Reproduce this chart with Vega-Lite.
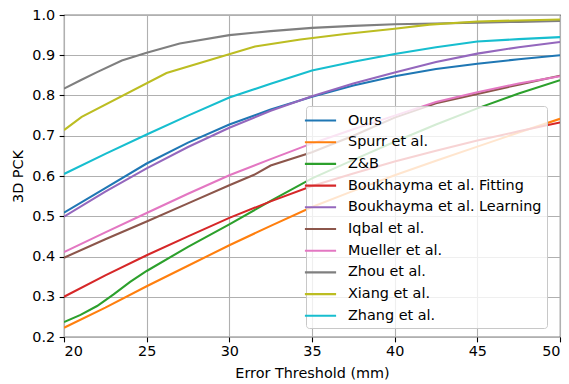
{
  "$schema": "https://vega.github.io/schema/vega-lite/v6.json",
  "width": 496,
  "height": 322,
  "autosize": "none",
  "padding": {"left": 64, "top": 15, "right": 9, "bottom": 47},
  "background": "white",
  "datasets": {
    "curves": [
      {"method": "Ours", "x": 20, "y": 0.509}, {"method": "Ours", "x": 22.5, "y": 0.570}, {"method": "Ours", "x": 25, "y": 0.631}, {"method": "Ours", "x": 27.5, "y": 0.683}, {"method": "Ours", "x": 30, "y": 0.728}, {"method": "Ours", "x": 32.5, "y": 0.765}, {"method": "Ours", "x": 35, "y": 0.797}, {"method": "Ours", "x": 37.5, "y": 0.825}, {"method": "Ours", "x": 40, "y": 0.848}, {"method": "Ours", "x": 42.5, "y": 0.866}, {"method": "Ours", "x": 45, "y": 0.879}, {"method": "Ours", "x": 47.5, "y": 0.89}, {"method": "Ours", "x": 50, "y": 0.9},

      {"method": "Spurr et al.", "x": 20, "y": 0.223}, {"method": "Spurr et al.", "x": 22.5, "y": 0.273}, {"method": "Spurr et al.", "x": 25, "y": 0.326}, {"method": "Spurr et al.", "x": 27.5, "y": 0.377}, {"method": "Spurr et al.", "x": 30, "y": 0.428}, {"method": "Spurr et al.", "x": 32.5, "y": 0.476}, {"method": "Spurr et al.", "x": 35, "y": 0.523}, {"method": "Spurr et al.", "x": 37.5, "y": 0.563}, {"method": "Spurr et al.", "x": 40, "y": 0.602}, {"method": "Spurr et al.", "x": 42.5, "y": 0.638}, {"method": "Spurr et al.", "x": 45, "y": 0.673}, {"method": "Spurr et al.", "x": 47.5, "y": 0.708}, {"method": "Spurr et al.", "x": 50, "y": 0.742},

      {"method": "Z&B", "x": 20, "y": 0.237}, {"method": "Z&B", "x": 21, "y": 0.255}, {"method": "Z&B", "x": 22, "y": 0.277}, {"method": "Z&B", "x": 23, "y": 0.306}, {"method": "Z&B", "x": 24, "y": 0.337}, {"method": "Z&B", "x": 25, "y": 0.364}, {"method": "Z&B", "x": 27.5, "y": 0.424}, {"method": "Z&B", "x": 30, "y": 0.48}, {"method": "Z&B", "x": 32.5, "y": 0.538}, {"method": "Z&B", "x": 35, "y": 0.594}, {"method": "Z&B", "x": 37.5, "y": 0.64}, {"method": "Z&B", "x": 40, "y": 0.685}, {"method": "Z&B", "x": 42.5, "y": 0.728}, {"method": "Z&B", "x": 45, "y": 0.768}, {"method": "Z&B", "x": 47.5, "y": 0.805}, {"method": "Z&B", "x": 50, "y": 0.838},

      {"method": "Boukhayma et al. Fitting", "x": 20, "y": 0.30}, {"method": "Boukhayma et al. Fitting", "x": 22.5, "y": 0.353}, {"method": "Boukhayma et al. Fitting", "x": 25, "y": 0.403}, {"method": "Boukhayma et al. Fitting", "x": 27.5, "y": 0.45}, {"method": "Boukhayma et al. Fitting", "x": 30, "y": 0.496}, {"method": "Boukhayma et al. Fitting", "x": 32.5, "y": 0.537}, {"method": "Boukhayma et al. Fitting", "x": 35, "y": 0.575}, {"method": "Boukhayma et al. Fitting", "x": 37.5, "y": 0.606}, {"method": "Boukhayma et al. Fitting", "x": 40, "y": 0.636}, {"method": "Boukhayma et al. Fitting", "x": 42.5, "y": 0.663}, {"method": "Boukhayma et al. Fitting", "x": 45, "y": 0.688}, {"method": "Boukhayma et al. Fitting", "x": 47.5, "y": 0.711}, {"method": "Boukhayma et al. Fitting", "x": 50, "y": 0.733},

      {"method": "Boukhayma et al. Learning", "x": 20, "y": 0.499}, {"method": "Boukhayma et al. Learning", "x": 22.5, "y": 0.561}, {"method": "Boukhayma et al. Learning", "x": 25, "y": 0.619}, {"method": "Boukhayma et al. Learning", "x": 27.5, "y": 0.672}, {"method": "Boukhayma et al. Learning", "x": 30, "y": 0.72}, {"method": "Boukhayma et al. Learning", "x": 32.5, "y": 0.762}, {"method": "Boukhayma et al. Learning", "x": 35, "y": 0.798}, {"method": "Boukhayma et al. Learning", "x": 37.5, "y": 0.83}, {"method": "Boukhayma et al. Learning", "x": 40, "y": 0.857}, {"method": "Boukhayma et al. Learning", "x": 42.5, "y": 0.883}, {"method": "Boukhayma et al. Learning", "x": 45, "y": 0.904}, {"method": "Boukhayma et al. Learning", "x": 47.5, "y": 0.92}, {"method": "Boukhayma et al. Learning", "x": 50, "y": 0.933},

      {"method": "Iqbal et al.", "x": 20, "y": 0.397}, {"method": "Iqbal et al.", "x": 22.5, "y": 0.443}, {"method": "Iqbal et al.", "x": 25, "y": 0.487}, {"method": "Iqbal et al.", "x": 27.5, "y": 0.532}, {"method": "Iqbal et al.", "x": 30, "y": 0.577}, {"method": "Iqbal et al.", "x": 31.5, "y": 0.603}, {"method": "Iqbal et al.", "x": 32.5, "y": 0.626}, {"method": "Iqbal et al.", "x": 35, "y": 0.659}, {"method": "Iqbal et al.", "x": 37.5, "y": 0.7}, {"method": "Iqbal et al.", "x": 40, "y": 0.745}, {"method": "Iqbal et al.", "x": 42.5, "y": 0.781}, {"method": "Iqbal et al.", "x": 45, "y": 0.804}, {"method": "Iqbal et al.", "x": 47.5, "y": 0.827}, {"method": "Iqbal et al.", "x": 50, "y": 0.849},

      {"method": "Mueller et al.", "x": 20, "y": 0.411}, {"method": "Mueller et al.", "x": 22.5, "y": 0.46}, {"method": "Mueller et al.", "x": 25, "y": 0.508}, {"method": "Mueller et al.", "x": 27.5, "y": 0.556}, {"method": "Mueller et al.", "x": 30, "y": 0.602}, {"method": "Mueller et al.", "x": 32.5, "y": 0.642}, {"method": "Mueller et al.", "x": 35, "y": 0.681}, {"method": "Mueller et al.", "x": 37.5, "y": 0.716}, {"method": "Mueller et al.", "x": 40, "y": 0.75}, {"method": "Mueller et al.", "x": 42.5, "y": 0.784}, {"method": "Mueller et al.", "x": 45, "y": 0.808}, {"method": "Mueller et al.", "x": 47.5, "y": 0.83}, {"method": "Mueller et al.", "x": 50, "y": 0.848},

      {"method": "Zhou et al.", "x": 20, "y": 0.817}, {"method": "Zhou et al.", "x": 21, "y": 0.838}, {"method": "Zhou et al.", "x": 22, "y": 0.858}, {"method": "Zhou et al.", "x": 23.5, "y": 0.887}, {"method": "Zhou et al.", "x": 25, "y": 0.906}, {"method": "Zhou et al.", "x": 27, "y": 0.929}, {"method": "Zhou et al.", "x": 30, "y": 0.95}, {"method": "Zhou et al.", "x": 32.5, "y": 0.96}, {"method": "Zhou et al.", "x": 35, "y": 0.968}, {"method": "Zhou et al.", "x": 37.5, "y": 0.973}, {"method": "Zhou et al.", "x": 40, "y": 0.977}, {"method": "Zhou et al.", "x": 42.5, "y": 0.979}, {"method": "Zhou et al.", "x": 45, "y": 0.981}, {"method": "Zhou et al.", "x": 47.5, "y": 0.983}, {"method": "Zhou et al.", "x": 50, "y": 0.985},

      {"method": "Xiang et al.", "x": 20, "y": 0.714}, {"method": "Xiang et al.", "x": 21.07, "y": 0.747}, {"method": "Xiang et al.", "x": 26.2, "y": 0.856}, {"method": "Xiang et al.", "x": 31.55, "y": 0.922}, {"method": "Xiang et al.", "x": 34.3, "y": 0.939}, {"method": "Xiang et al.", "x": 37, "y": 0.953}, {"method": "Xiang et al.", "x": 40, "y": 0.966}, {"method": "Xiang et al.", "x": 42.1, "y": 0.976}, {"method": "Xiang et al.", "x": 45, "y": 0.984}, {"method": "Xiang et al.", "x": 50, "y": 0.989},

      {"method": "Zhang et al.", "x": 20, "y": 0.605}, {"method": "Zhang et al.", "x": 22.5, "y": 0.655}, {"method": "Zhang et al.", "x": 25, "y": 0.703}, {"method": "Zhang et al.", "x": 27.5, "y": 0.75}, {"method": "Zhang et al.", "x": 30, "y": 0.795}, {"method": "Zhang et al.", "x": 32.5, "y": 0.829}, {"method": "Zhang et al.", "x": 35, "y": 0.862}, {"method": "Zhang et al.", "x": 37.5, "y": 0.884}, {"method": "Zhang et al.", "x": 40, "y": 0.903}, {"method": "Zhang et al.", "x": 42.5, "y": 0.92}, {"method": "Zhang et al.", "x": 45, "y": 0.934}, {"method": "Zhang et al.", "x": 47.5, "y": 0.94}, {"method": "Zhang et al.", "x": 50, "y": 0.945}
    ]
  },
  "data": {"name": "curves"},
  "mark": {"type": "line", "strokeWidth": 2.08, "clip": true},
  "encoding": {
    "x": {
      "field": "x", "type": "quantitative",
      "scale": {"domain": [20, 50], "nice": false, "zero": false},
      "axis": {"title": "Error Threshold (mm)", "values": [20, 25, 30, 35, 40, 45, 50], "format": "d"}
    },
    "y": {
      "field": "y", "type": "quantitative",
      "scale": {"domain": [0.2, 1.0], "nice": false, "zero": false},
      "axis": {"title": "3D PCK", "values": [0.2, 0.3, 0.4, 0.5, 0.6, 0.7, 0.8, 0.9, 1.0], "format": ".1f"}
    },
    "color": {
      "field": "method", "type": "nominal",
      "scale": {
        "domain": ["Ours", "Spurr et al.", "Z&B", "Boukhayma et al. Fitting", "Boukhayma et al. Learning", "Iqbal et al.", "Mueller et al.", "Zhou et al.", "Xiang et al.", "Zhang et al."],
        "range": ["#1f77b4", "#ff7f0e", "#2ca02c", "#d62728", "#9467bd", "#8c564b", "#e377c2", "#7f7f7f", "#bcbd22", "#17becf"]
      },
      "legend": {
        "title": null,
        "orient": "none",
        "legendX": 242,
        "legendY": 91,
        "fillColor": "rgba(255,255,255,0.8)",
        "strokeColor": "#c8c8c8",
        "cornerRadius": 3,
        "padding": 5,
        "symbolType": "M-1.95,0H1.95",
        "symbolSize": 256,
        "symbolStrokeWidth": 2.08,
        "labelFontSize": 14.4,
        "labelFont": "DejaVu Sans",
        "labelColor": "black",
        "labelLimit": 0,
        "labelOffset": 18,
        "rowPadding": 5.7
      }
    }
  },
  "config": {
    "font": "DejaVu Sans",
    "view": {"stroke": "black", "strokeWidth": 1.1},
    "axis": {
      "domain": false,
      "grid": true,
      "gridColor": "#b0b0b0",
      "gridWidth": 1.1,
      "tickColor": "black",
      "tickSize": 4.86,
      "tickWidth": 1.1,
      "labelFont": "DejaVu Sans",
      "labelFontSize": 14.4,
      "labelColor": "black",
      "titleFont": "DejaVu Sans",
      "titleFontSize": 14.4,
      "titleFontWeight": "normal",
      "titleColor": "black"
    },
    "axisX": {"titlePadding": 9, "labelPadding": 2.5},
    "axisY": {"titlePadding": 6, "labelPadding": 4.5}
  }
}
